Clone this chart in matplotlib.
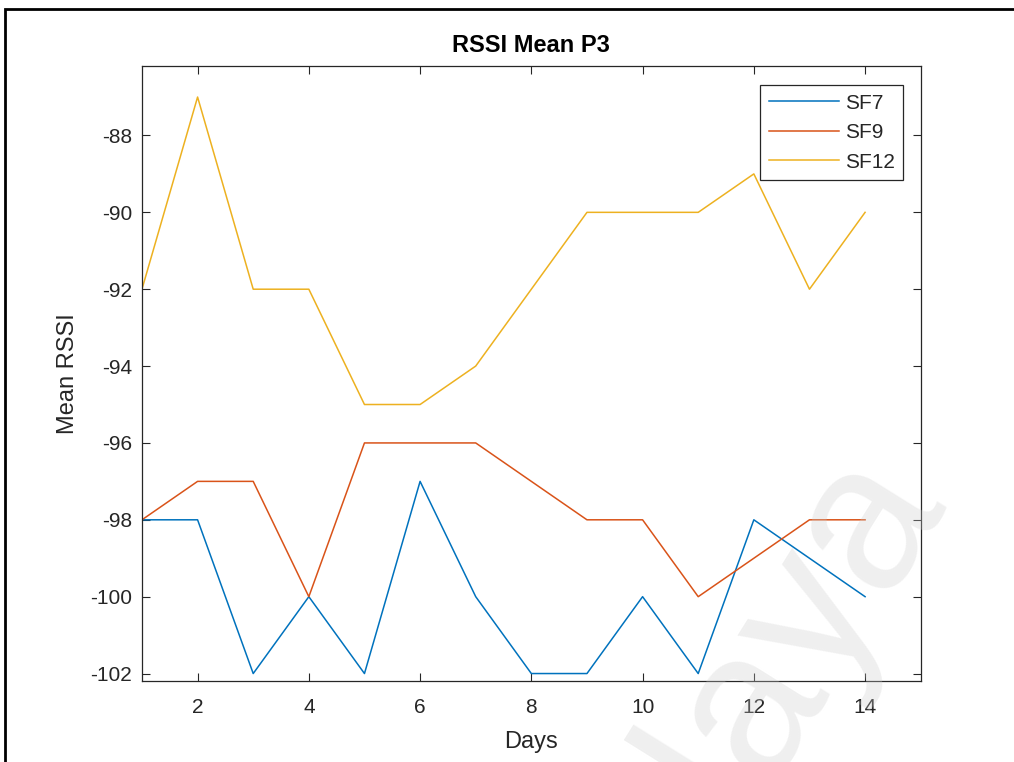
import numpy as np
import matplotlib.pyplot as plt
from matplotlib.patches import Rectangle

# Data
days = np.arange(1, 15)
sf7 = [-98, -98, -102, -100, -102, -97, -100, -102, -102, -100, -102, -98, -99, -100]
sf9 = [-98, -97, -97, -100, -96, -96, -96, -97, -98, -98, -100, -99, -98, -98]
sf12 = [-92, -87, -92, -92, -95, -95, -94, -92, -90, -90, -90, -89, -92, -90]

plt.rcParams["font.family"] = ["Liberation Sans", "DejaVu Sans"]
plt.rcParams["axes.unicode_minus"] = False

fig = plt.figure(figsize=(10.14, 7.62), dpi=100)
ax = fig.add_axes([0.140, 0.106, 0.768, 0.807])

ax.plot(days, sf7, color='#0072BD', lw=1.1, label='SF7')
ax.plot(days, sf9, color='#D95319', lw=1.1, label='SF9')
ax.plot(days, sf12, color='#EDB120', lw=1.1, label='SF12')

ax.set_xlim(1, 15)
ax.set_ylim(-102.2, -86.2)
ax.set_xticks(range(2, 15, 2))
ax.set_yticks(range(-102, -87, 2))
ax.tick_params(axis='both', direction='in', top=True, right=True, length=6, width=0.8,
               labelsize=15, colors='#262626')
ax.tick_params(axis='x', pad=12)
ax.tick_params(axis='y', pad=7)
for s in ax.spines.values():
    s.set_color('#262626')
    s.set_linewidth(0.9)

ax.set_xlabel("Days", fontsize=17, color='#262626', labelpad=10)
ax.set_ylabel("Mean RSSI", fontsize=17, color='#262626', labelpad=8)
ax.set_title("RSSI Mean P3", fontsize=17, fontweight='bold', pad=10)

leg = ax.legend(loc='upper right', fontsize=15, handlelength=3.4, handletextpad=0.25,
                borderpad=0.4, labelspacing=0.5, fancybox=False, framealpha=1,
                edgecolor='#262626', bbox_to_anchor=(0.977, 0.969), borderaxespad=0)
leg.get_frame().set_linewidth(0.9)
for t in leg.get_texts():
    t.set_color('#262626')

# outer frame of the picture
fig.patches.append(Rectangle((5 / 1014, -0.1), 1.2, 1 - 9 / 762 + 0.1, transform=fig.transFigure,
                             fill=False, edgecolor='black', lw=2))

# faint watermark
fig.text(0.755, 0.105, "alaya", fontsize=150, color='#cccccc', alpha=0.3,
         rotation=58, ha='center', va='center', zorder=10)

plt.savefig("out.png", dpi=100)
